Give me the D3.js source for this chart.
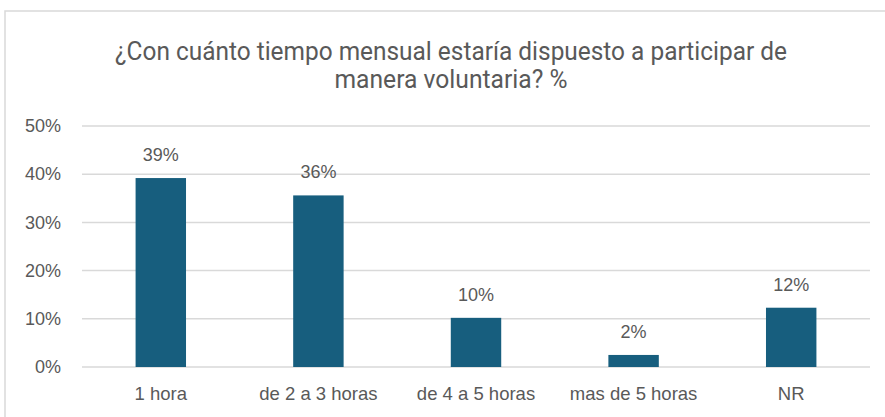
<!DOCTYPE html>
<html>
<head>
<meta charset="utf-8">
<script src="https://cdn.jsdelivr.net/npm/d3@7"></script>
<style>
  body { margin: 0; background: #fff; }
  text { font-family: "Liberation Sans", Arial, sans-serif; fill: #595959; }
</style>
</head>
<body>
<div id="chart"></div>
<script>
var w = 885, h = 417;

var categories = ["1 hora", "de 2 a 3 horas", "de 4 a 5 horas", "mas de 5 horas", "NR"];
var values = [39.2, 35.6, 10.2, 2.5, 12.3];
var labels = ["39%", "36%", "10%", "2%", "12%"];
var yTicks = [0, 10, 20, 30, 40, 50];
var titleLines = ["¿Con cuánto tiempo mensual estaría dispuesto a participar de", "manera voluntaria? %"];

var margin = {top: 126, right: 15, bottom: 50, left: 82};

var svg = d3.select("#chart").append("svg")
  .attr("width", w)
  .attr("height", h);

// chart frame
svg.append("rect")
  .attr("x", 5).attr("y", 11)
  .attr("width", 900).attr("height", 420)
  .attr("fill", "none")
  .attr("stroke", "#d9d9d9")
  .attr("stroke-width", 1.5);

// title
svg.append("g").selectAll("text")
  .data(titleLines)
  .enter().append("text")
  .attr("x", 451)
  .attr("y", function(d, i) { return 60 + i * 28; })
  .attr("text-anchor", "middle")
  .style("font-family", "'Liberation Sans Narrow', 'Roboto', sans-serif")
  .style("font-size", "25px")
  .attr("textLength", function(d, i) { return i == 0 ? 672 : 233; })
  .attr("lengthAdjust", "spacingAndGlyphs")
  .text(function(d) { return d; });

var x = d3.scaleBand()
  .domain(categories)
  .range([margin.left, w - margin.right])
  .paddingInner(0.68)
  .paddingOuter(0.34);

var y = d3.scaleLinear()
  .domain([0, 50])
  .range([367, 126]);

// gridlines
svg.append("g").selectAll("line")
  .data(yTicks)
  .enter().append("line")
  .attr("x1", margin.left).attr("x2", w - margin.right)
  .attr("y1", function(d) { return y(d); })
  .attr("y2", function(d) { return y(d); })
  .attr("stroke", "#d9d9d9")
  .attr("stroke-width", 1.5);

// y axis labels
var yAxis = d3.axisLeft(y)
  .tickValues(yTicks)
  .tickFormat(function(d) { return d + "%"; })
  .tickSize(0)
  .tickPadding(0);

svg.append("g")
  .attr("transform", "translate(61,0)")
  .call(yAxis)
  .call(function(g) { g.select(".domain").remove(); })
  .selectAll("text")
  .style("font-size", "18px")
  .style("font-family", "'Liberation Sans', Arial, sans-serif")
  .attr("fill", "#595959");

// x axis labels
var xAxis = d3.axisBottom(x).tickSize(0).tickPadding(0);

svg.append("g")
  .attr("transform", "translate(0,387)")
  .call(xAxis)
  .call(function(g) { g.select(".domain").remove(); })
  .selectAll("text")
  .style("font-size", "18.5px")
  .style("font-family", "'Liberation Sans', Arial, sans-serif")
  .attr("fill", "#595959");

// bars
svg.append("g").selectAll("rect")
  .data(values)
  .enter().append("rect")
  .attr("x", function(d, i) { return x(categories[i]); })
  .attr("y", function(d) { return y(d); })
  .attr("width", x.bandwidth())
  .attr("height", function(d) { return y(0) - y(d); })
  .attr("fill", "#175e7e");

// value labels
svg.append("g").selectAll("text")
  .data(values)
  .enter().append("text")
  .attr("x", function(d, i) { return x(categories[i]) + x.bandwidth() / 2; })
  .attr("y", function(d) { return y(d) - 17; })
  .attr("text-anchor", "middle")
  .style("font-size", "18px")
  .text(function(d, i) { return labels[i]; });
</script>
</body>
</html>
